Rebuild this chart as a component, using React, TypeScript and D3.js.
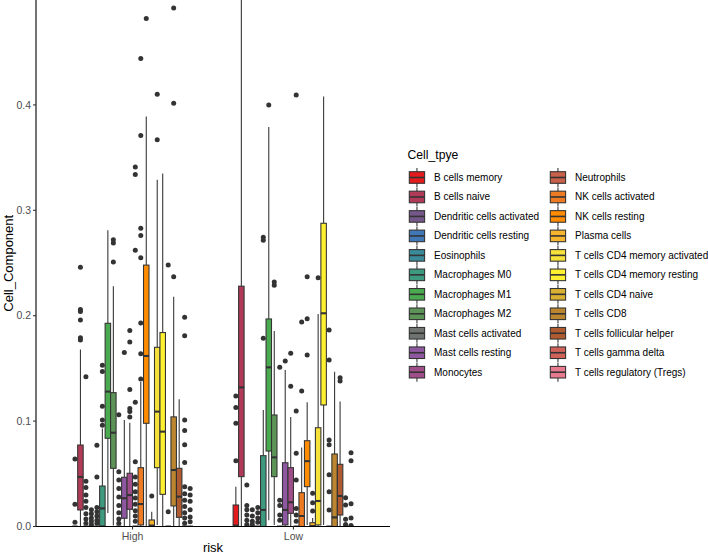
import React from "react";
import * as d3 from "d3";

const cellTypes = [
  "B cells memory", "B cells naive", "Dendritic cells activated", "Dendritic cells resting",
  "Eosinophils", "Macrophages M0", "Macrophages M1", "Macrophages M2",
  "Mast cells activated", "Mast cells resting", "Monocytes", "Neutrophils",
  "NK cells activated", "NK cells resting", "Plasma cells", "T cells CD4 memory activated",
  "T cells CD4 memory resting", "T cells CD4 naive", "T cells CD8", "T cells follicular helper",
  "T cells gamma delta", "T cells regulatory (Tregs)",
];

const colors = [
  "#E41A1C", "#B03A57", "#75588A", "#3F78B5", "#3A8A9A", "#3E9A7E", "#4AAA50", "#5C9458",
  "#6F7470", "#8E58A0", "#A04E8A", "#C8604A", "#EE7A22", "#FF8C00", "#F7B52E", "#F5E13A",
  "#FFF030", "#D9B032", "#BC8630", "#B05A30", "#D0625A", "#E87A90",
];

const groups = ["High", "Low"];
const yTicks = [0, 0.1, 0.2, 0.3, 0.4];

// High risk group box statistics
const highLower = [0, 0, 0, 0, 0, 0, 0.0128, 0.001, 0, 0, 0, 0, 0, 0, 0, 0.0015, 0, 0, 0, 0, 0, 0];
const highQ1 = [0, 0.0157, 0, 0, 0, 0.0005, 0.0837, 0.0552, 0, 0.0078, 0.0163, 0, 0.0015, 0.0979, 0, 0.0558, 0.0305, 0, 0.0195, 0.0087, 0, 0];
const highMedian = [0, 0.047, 0, 0, 0, 0.0172, 0.128, 0.089, 0, 0.0268, 0.0298, 0, 0.0213, 0.1618, 0.001, 0.109, 0.09, 0, 0.0536, 0.0283, 0, 0];
const highQ3 = [0, 0.0773, 0, 0, 0, 0.0384, 0.1928, 0.127, 0, 0.0467, 0.0505, 0, 0.0558, 0.248, 0.0062, 0.17, 0.184, 0, 0.104, 0.0552, 0, 0];
const highUpper = [0, 0.168, 0, 0, 0, 0.093, 0.281, 0.228, 0, 0.101, 0.0985, 0, 0.137, 0.389, 0.014, 0.329, 0.335, 0, 0.218, 0.1207, 0, 0];
const highOutliers = [
  [0.064, 0.021, 0.004],
  [0.246, 0.206, 0.204, 0.196, 0.179, 0.177],
  [0.142, 0.043, 0.037, 0.03, 0.024, 0.018, 0.012, 0.007, 0.003],
  [0.016, 0.012, 0.008, 0.005, 0.002],
  [0.077, 0.047, 0.018, 0.014, 0.01, 0.006, 0.003],
  [0.153, 0.147, 0.114, 0.101, 0.096],
  [],
  [0.272, 0.269, 0.251],
  [0.106, 0.052, 0.044, 0.036, 0.028, 0.02, 0.013, 0.007, 0.003],
  [0.165],
  [0.186, 0.175, 0.13, 0.112, 0.109, 0.104],
  [0.341, 0.334, 0.262, 0.118, 0.0615, 0.047, 0.04, 0.033, 0.027, 0.021, 0.015, 0.01, 0.005],
  [0.444, 0.371, 0.283, 0.276, 0.255, 0.193, 0.164, 0.14],
  [0.482],
  [0.029],
  [0.41, 0.367],
  [],
  [0.248, 0.014],
  [0.492, 0.4015, 0.237],
  [],
  [0.1985, 0.181, 0.101, 0.091, 0.0775, 0.0607, 0.0378, 0.031, 0.025, 0.019, 0.013, 0.008, 0.003],
  [0.036, 0.03, 0.024, 0.016, 0.009, 0.0046],
];

// Low risk group box statistics
const lowLower = [0, 0, 0, 0, 0, 0, 0.006, 0.0015, 0, 0, 0, 0, 0, 0.0015, 0, 0, 0.0015, 0, 0, 0, 0, 0];
const lowQ1 = [0, 0.0473, 0, 0, 0, 0, 0.0716, 0.0473, 0, 0.0015, 0.0125, 0, 0, 0.0378, 0, 0.0015, 0.1153, 0, 0, 0.0109, 0, 0];
const lowMedian = [0.001, 0.132, 0, 0, 0, 0.0157, 0.151, 0.0656, 0, 0.0157, 0.023, 0, 0.01, 0.062, 0.0005, 0.0242, 0.2023, 0, 0.0087, 0.029, 0, 0];
const lowQ3 = [0.0204, 0.228, 0, 0, 0, 0.0672, 0.1969, 0.1058, 0, 0.0605, 0.0558, 0, 0.0321, 0.0814, 0.0036, 0.0937, 0.2877, 0, 0.0688, 0.059, 0, 0];
const lowUpper = [0.0378, 0.52, 0, 0, 0, 0.1105, 0.379, 0.1855, 0, 0.1485, 0.104, 0, 0.075, 0.118, 0.008, 0.2016, 0.408, 0, 0.1469, 0.1185, 0, 0];
const lowOutliers = [
  [0.1238, 0.1128, 0.0979, 0.0625],
  [],
  [0.0394, 0.02, 0.016, 0.011, 0.006, 0.002],
  [0.016, 0.01, 0.005, 0.002],
  [0.018, 0.013, 0.008, 0.004],
  [0.2745, 0.2715, 0.1785],
  [0.4],
  [0.232, 0.229],
  [0.151, 0.025, 0.02, 0.011, 0.006],
  [0.157],
  [0.1643, 0.133],
  [0.4094, 0.1096, 0.0695, 0.044, 0.017, 0.011, 0.005],
  [0.194, 0.1286],
  [0.237, 0.197, 0.1627],
  [0.0315, 0.0225, 0.0146],
  [0.236],
  [],
  [0.1864, 0.158, 0.082, 0.0775, 0.049, 0.033, 0.0157],
  [],
  [0.1412, 0.138],
  [0.0273, 0.0205, 0.0068, 0.002],
  [0.07, 0.0625, 0.0215, 0.008, 0.001],
];

const groupStats: Record<string, any> = {
  High: { lo: highLower, q1: highQ1, med: highMedian, q3: highQ3, hi: highUpper, out: highOutliers },
  Low: { lo: lowLower, q1: lowQ1, med: lowMedian, q3: lowQ3, hi: lowUpper, out: lowOutliers },
};

const FONT = "'Liberation Sans', Arial, Helvetica, sans-serif";
const LINE = "#333333";

export default function App() {
  const W = 708;
  const H = 554;
  const left = 36;
  const right = 390;
  const bottom = 526.5;

  const x = d3.scalePoint<string>().domain(groups).range([left, right]).padding(0.6);
  const step = x.step();
  const inner = d3.scaleBand<string>().domain(cellTypes).range([-0.375 * step, 0.375 * step]);
  const bw = inner.bandwidth();
  const y = d3.scaleLinear().domain([0, 0.5]).range([bottom, -0.5]);
  const fmt = d3.format(".1f");

  const boxes: any[] = [];
  groups.forEach((g) => {
    const s = groupStats[g];
    cellTypes.forEach((c, i) => {
      const x0 = (x(g) as number) + (inner(c) as number);
      const cx = x0 + bw / 2;
      boxes.push(
        <g key={g + c}>
          <line x1={cx} x2={cx} y1={y(s.hi[i])} y2={y(s.q3[i])} stroke={LINE} strokeWidth={1.07} />
          <line x1={cx} x2={cx} y1={y(s.q1[i])} y2={y(s.lo[i])} stroke={LINE} strokeWidth={1.07} />
          <rect
            x={x0}
            y={y(s.q3[i])}
            width={bw}
            height={Math.max(0, y(s.q1[i]) - y(s.q3[i]))}
            fill={colors[i]}
            stroke={LINE}
            strokeWidth={1.07}
          />
          <line x1={x0} x2={x0 + bw} y1={y(s.med[i])} y2={y(s.med[i])} stroke={LINE} strokeWidth={2.1} />
          {s.out[i].map((v: number, j: number) => (
            <circle key={j} cx={cx} cy={y(v)} r={2.5} fill={LINE} />
          ))}
        </g>
      );
    });
  });

  const legendRowH = 19.47;
  const legendTop = 177.5;
  const keyW = 15.3;

  return (
    <div style={{ position: "absolute", left: 0, top: 0, width: W, height: H, background: "#fff" }}>
      <svg width={W} height={H} viewBox={`0 0 ${W} ${H}`} style={{ display: "block", fontFamily: FONT }}>
        <rect x={0} y={0} width={W} height={H} fill="#fff" />
        <defs>
          <clipPath id="panelClip">
            <rect x={left} y={0} width={right - left} height={bottom} />
          </clipPath>
        </defs>
        <g clipPath="url(#panelClip)">{boxes}</g>

        {/* y axis */}
        <line x1={left} x2={left} y1={0} y2={bottom} stroke="#000" strokeWidth={1.1} />
        {yTicks.map((t) => (
          <g key={t}>
            <line x1={left - 3} x2={left} y1={y(t)} y2={y(t)} stroke="#333" strokeWidth={1.07} />
            <text x={left - 5} y={y(t)} dy="0.35em" textAnchor="end" fontSize={10.5} fill="#4D4D4D">
              {fmt(t)}
            </text>
          </g>
        ))}
        {/* x axis */}
        <line x1={left} x2={right} y1={bottom} y2={bottom} stroke="#000" strokeWidth={1.1} />
        {groups.map((g) => (
          <g key={g}>
            <line x1={x(g)} x2={x(g)} y1={bottom} y2={bottom + 3} stroke="#333" strokeWidth={1.07} />
            <text x={x(g)} y={540} textAnchor="middle" fontSize={10.5} fill="#4D4D4D">
              {g}
            </text>
          </g>
        ))}
        <text x={(left + right) / 2} y={552} textAnchor="middle" fontSize={13} fill="#000">
          risk
        </text>
        <text
          transform={`translate(12.5,${bottom / 2}) rotate(-90)`}
          textAnchor="middle"
          fontSize={13}
          fill="#000"
        >
          Cell_Component
        </text>

        {/* legend */}
        <text x={407.5} y={159} fontSize={12.2} fill="#000">
          Cell_tpye
        </text>
        {cellTypes.map((c, i) => {
          const col = i < 11 ? 0 : 1;
          const row = i % 11;
          const kx = col === 0 ? 409.3 : 550.3;
          const cy = legendTop + row * legendRowH;
          const mid = kx + keyW / 2;
          return (
            <g key={c}>
              <line x1={mid} x2={mid} y1={cy - 9.5} y2={cy + 9.5} stroke={LINE} strokeWidth={1.07} />
              <rect x={kx} y={cy - 5.8} width={keyW} height={11.6} fill={colors[i]} stroke={LINE} strokeWidth={1.07} />
              <line x1={kx} x2={kx + keyW} y1={cy} y2={cy} stroke={LINE} strokeWidth={1.6} />
              <text x={kx + 24.7} y={cy} dy="0.35em" fontSize={10} fill="#000">
                {c}
              </text>
            </g>
          );
        })}
      </svg>
    </div>
  );
}
